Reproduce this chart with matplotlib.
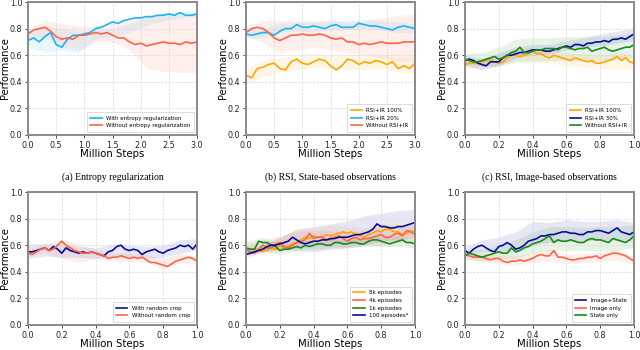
import numpy as np
import matplotlib
matplotlib.use('Agg')
import matplotlib.pyplot as plt

# ---- data ----
# top row (a), (b): 0..3 million steps, 31 points ; everything else 0..1, 41 points
steps3 = np.linspace(0, 3.0, 31)
steps1 = np.linspace(0, 1.0, 41)
band3 = np.linspace(0, 3.0, 11)
band1 = np.linspace(0, 1.0, 11)

# (a) entropy regularization
a_with = [0.71,0.73,0.70,0.74,0.77,0.68,0.66,0.72,0.75,0.75,0.76,0.77,0.80,0.81,0.83,0.85,
          0.84,0.86,0.87,0.88,0.88,0.89,0.89,0.90,0.90,0.91,0.90,0.92,0.90,0.90,0.91]
a_without = [0.76,0.79,0.80,0.81,0.78,0.74,0.72,0.73,0.72,0.75,0.75,0.76,0.77,0.76,0.77,0.75,
             0.73,0.73,0.70,0.68,0.69,0.67,0.68,0.69,0.70,0.69,0.69,0.68,0.70,0.69,0.70]
a_with_lo = [0.66,0.62,0.64,0.62,0.72,0.74,0.77,0.82,0.86,0.88,0.89]
a_with_hi = [0.76,0.82,0.80,0.78,0.79,0.80,0.84,0.88,0.92,0.93,0.93]
a_without_lo = [0.72,0.74,0.66,0.64,0.70,0.70,0.64,0.50,0.48,0.47,0.47]
a_without_hi = [0.80,0.86,0.84,0.82,0.82,0.84,0.86,0.90,0.90,0.90,0.91]

# (b) RSI, state-based
b_100 = [0.45,0.43,0.50,0.51,0.53,0.54,0.50,0.49,0.55,0.57,0.54,0.53,0.55,0.57,0.56,0.52,
         0.49,0.52,0.57,0.56,0.53,0.55,0.54,0.56,0.55,0.53,0.55,0.50,0.52,0.50,0.54]
b_20 = [0.76,0.75,0.76,0.77,0.77,0.75,0.78,0.80,0.80,0.83,0.81,0.81,0.82,0.81,0.80,0.82,
        0.83,0.81,0.81,0.81,0.84,0.83,0.82,0.82,0.81,0.80,0.79,0.81,0.82,0.81,0.80]
b_without = [0.77,0.80,0.81,0.80,0.77,0.73,0.71,0.73,0.75,0.75,0.76,0.75,0.75,0.76,0.75,0.73,
             0.72,0.73,0.70,0.70,0.68,0.69,0.68,0.69,0.70,0.69,0.69,0.69,0.70,0.70,0.70]
b_100_lo = [0.38,0.44,0.47,0.49,0.51,0.50,0.49,0.49,0.50,0.47,0.47]
b_100_hi = [0.50,0.56,0.58,0.60,0.61,0.60,0.61,0.60,0.60,0.58,0.58]
b_20_lo = [0.73,0.73,0.77,0.78,0.78,0.79,0.79,0.80,0.79,0.77,0.77]
b_20_hi = [0.79,0.80,0.84,0.85,0.85,0.86,0.86,0.87,0.86,0.85,0.84]
b_without_lo = [0.74,0.70,0.62,0.64,0.66,0.64,0.62,0.60,0.58,0.56,0.55]
b_without_hi = [0.82,0.86,0.86,0.86,0.86,0.86,0.85,0.86,0.88,0.90,0.91]

# (c) RSI, image-based
c_100 = [0.53,0.54,0.54,0.55,0.55,0.56,0.57,0.55,0.54,0.55,0.58,0.60,0.60,0.59,0.60,0.61,
         0.63,0.61,0.61,0.59,0.58,0.60,0.59,0.58,0.57,0.56,0.58,0.57,0.56,0.55,0.56,0.54,
         0.54,0.55,0.56,0.57,0.59,0.56,0.58,0.55,0.54]
c_30 = [0.56,0.57,0.56,0.54,0.53,0.52,0.55,0.55,0.55,0.58,0.60,0.60,0.61,0.62,0.62,0.63,
        0.64,0.64,0.64,0.63,0.63,0.64,0.65,0.66,0.67,0.66,0.68,0.68,0.67,0.69,0.69,0.70,
        0.70,0.71,0.70,0.72,0.72,0.73,0.72,0.74,0.76]
c_without = [0.57,0.56,0.55,0.55,0.56,0.57,0.58,0.59,0.57,0.58,0.60,0.62,0.63,0.66,0.62,0.62,
             0.63,0.64,0.64,0.65,0.65,0.65,0.64,0.66,0.66,0.65,0.64,0.65,0.65,0.66,0.63,0.64,
             0.65,0.66,0.64,0.63,0.64,0.65,0.66,0.66,0.68]
c_100_lo = [0.50,0.51,0.52,0.56,0.56,0.54,0.52,0.51,0.50,0.50,0.49]
c_100_hi = [0.56,0.58,0.60,0.65,0.66,0.64,0.62,0.61,0.60,0.62,0.60]
c_30_lo = [0.52,0.49,0.52,0.58,0.60,0.61,0.64,0.66,0.67,0.69,0.71]
c_30_hi = [0.60,0.57,0.62,0.66,0.68,0.68,0.71,0.73,0.76,0.78,0.80]
c_without_lo = [0.53,0.52,0.52,0.55,0.55,0.56,0.56,0.56,0.56,0.57,0.58]
c_without_hi = [0.61,0.62,0.66,0.72,0.73,0.73,0.74,0.74,0.74,0.75,0.77]

# (d) random crop
d_with = [0.55,0.55,0.56,0.57,0.58,0.56,0.59,0.57,0.54,0.58,0.56,0.55,0.54,0.55,0.54,0.55,
          0.54,0.53,0.52,0.55,0.56,0.59,0.60,0.57,0.56,0.57,0.56,0.53,0.55,0.56,0.57,0.55,
          0.54,0.56,0.57,0.58,0.60,0.59,0.60,0.57,0.61]
d_without = [0.54,0.53,0.55,0.57,0.58,0.56,0.57,0.60,0.63,0.60,0.58,0.56,0.55,0.54,0.54,0.55,
             0.54,0.53,0.52,0.50,0.51,0.51,0.52,0.51,0.50,0.51,0.50,0.51,0.49,0.47,0.47,0.46,
             0.45,0.44,0.46,0.48,0.49,0.50,0.51,0.50,0.48]
d_with_lo = [0.50,0.52,0.51,0.51,0.50,0.52,0.52,0.50,0.51,0.54,0.56]
d_with_hi = [0.61,0.61,0.61,0.59,0.58,0.61,0.60,0.59,0.60,0.64,0.65]
d_without_lo = [0.52,0.54,0.50,0.47,0.50,0.48,0.48,0.47,0.42,0.47,0.46]
d_without_hi = [0.57,0.61,0.64,0.61,0.57,0.54,0.54,0.53,0.50,0.54,0.51]

# (e) number of demo episodes
e_8k = [0.56,0.57,0.57,0.56,0.55,0.57,0.58,0.57,0.60,0.58,0.59,0.61,0.62,0.64,0.66,0.65,
        0.67,0.66,0.66,0.68,0.67,0.68,0.69,0.70,0.69,0.70,0.68,0.67,0.66,0.68,0.69,0.71,
        0.70,0.72,0.72,0.70,0.70,0.68,0.69,0.71,0.70]
e_4k = [0.57,0.55,0.54,0.57,0.60,0.58,0.58,0.61,0.62,0.59,0.58,0.60,0.62,0.63,0.64,0.69,
        0.65,0.66,0.66,0.64,0.64,0.66,0.67,0.65,0.63,0.65,0.66,0.64,0.65,0.65,0.66,0.67,
        0.68,0.66,0.66,0.68,0.69,0.67,0.71,0.70,0.68]
e_1k = [0.58,0.57,0.57,0.63,0.62,0.62,0.60,0.59,0.56,0.57,0.57,0.58,0.59,0.58,0.60,0.59,
        0.60,0.61,0.61,0.60,0.60,0.62,0.62,0.61,0.61,0.62,0.62,0.61,0.61,0.63,0.64,0.64,
        0.63,0.62,0.61,0.62,0.63,0.64,0.62,0.62,0.61]
e_100 = [0.53,0.54,0.55,0.56,0.57,0.59,0.60,0.60,0.61,0.62,0.63,0.66,0.64,0.62,0.61,0.62,
         0.63,0.63,0.64,0.64,0.65,0.65,0.66,0.66,0.66,0.67,0.68,0.68,0.69,0.70,0.72,0.76,
         0.74,0.74,0.73,0.73,0.74,0.74,0.75,0.76,0.77]
e_8k_lo = [0.53,0.53,0.55,0.60,0.61,0.63,0.62,0.62,0.64,0.64,0.65]
e_8k_hi = [0.60,0.62,0.66,0.72,0.73,0.75,0.74,0.73,0.76,0.76,0.75]
e_4k_lo = [0.53,0.55,0.56,0.58,0.59,0.59,0.59,0.60,0.60,0.62,0.63]
e_4k_hi = [0.61,0.64,0.67,0.70,0.71,0.71,0.70,0.71,0.74,0.75,0.74]
e_1k_lo = [0.53,0.56,0.53,0.56,0.57,0.58,0.58,0.59,0.59,0.59,0.58]
e_1k_hi = [0.63,0.66,0.61,0.63,0.64,0.64,0.65,0.66,0.67,0.67,0.65]
e_100_lo = [0.51,0.55,0.57,0.56,0.55,0.57,0.58,0.60,0.63,0.64,0.66]
e_100_hi = [0.56,0.60,0.66,0.72,0.74,0.76,0.78,0.82,0.84,0.86,0.87]

# (f) observation type
f_both = [0.56,0.54,0.57,0.59,0.60,0.58,0.56,0.55,0.59,0.60,0.62,0.60,0.57,0.58,0.60,0.63,
          0.64,0.65,0.67,0.67,0.68,0.68,0.69,0.70,0.70,0.69,0.69,0.68,0.68,0.70,0.70,0.71,
          0.71,0.70,0.69,0.71,0.73,0.70,0.69,0.68,0.70]
f_image = [0.53,0.52,0.51,0.51,0.51,0.50,0.49,0.50,0.50,0.48,0.47,0.48,0.48,0.49,0.48,0.49,
           0.50,0.52,0.53,0.52,0.52,0.56,0.51,0.51,0.50,0.49,0.49,0.50,0.50,0.51,0.51,0.52,
           0.50,0.52,0.53,0.54,0.54,0.53,0.52,0.50,0.48]
f_state = [0.52,0.54,0.53,0.52,0.51,0.52,0.53,0.54,0.55,0.54,0.54,0.58,0.55,0.56,0.58,0.59,
           0.61,0.62,0.63,0.65,0.67,0.62,0.64,0.63,0.63,0.64,0.63,0.62,0.62,0.64,0.65,0.64,
           0.64,0.63,0.62,0.65,0.64,0.63,0.62,0.64,0.67]
f_both_lo = [0.53,0.55,0.55,0.55,0.60,0.62,0.63,0.63,0.64,0.64,0.63]
f_both_hi = [0.59,0.64,0.66,0.70,0.78,0.77,0.79,0.78,0.78,0.79,0.77]
f_image_lo = [0.50,0.48,0.46,0.45,0.47,0.48,0.46,0.47,0.48,0.49,0.45]
f_image_hi = [0.55,0.54,0.53,0.52,0.54,0.57,0.53,0.54,0.55,0.57,0.51]
f_state_lo = [0.49,0.48,0.50,0.50,0.54,0.56,0.56,0.56,0.56,0.56,0.58]
f_state_hi = [0.56,0.57,0.60,0.64,0.70,0.74,0.74,0.73,0.74,0.74,0.75]

captions = ['(a) Entropy regularization',
            '(b) RSI, State-based observations',
            '(c) RSI, Image-based observations']

LBLUE = '#19b4f5'
RED = '#ff6347'
ORANGE = '#ffa500'
DBLUE = '#0b0b9a'
GREEN = '#1a8a1a'

panels = [
    (steps3, band3, 3.0, [
        (a_with, a_with_lo, a_with_hi, LBLUE, 'With entropy regularization'),
        (a_without, a_without_lo, a_without_hi, RED, 'Without entropy regularization')]),
    (steps3, band3, 3.0, [
        (b_100, b_100_lo, b_100_hi, ORANGE, 'RSI+IR 100%'),
        (b_20, b_20_lo, b_20_hi, LBLUE, 'RSI+IR 20%'),
        (b_without, b_without_lo, b_without_hi, RED, 'Without RSI+IR')]),
    (steps1, band1, 1.0, [
        (c_100, c_100_lo, c_100_hi, ORANGE, 'RSI+IR 100%'),
        (c_30, c_30_lo, c_30_hi, DBLUE, 'RSI+IR 30%'),
        (c_without, c_without_lo, c_without_hi, GREEN, 'Without RSI+IR')]),
    (steps1, band1, 1.0, [
        (d_with, d_with_lo, d_with_hi, DBLUE, 'With random crop'),
        (d_without, d_without_lo, d_without_hi, RED, 'Without random crop')]),
    (steps1, band1, 1.0, [
        (e_8k, e_8k_lo, e_8k_hi, ORANGE, '8k episodes'),
        (e_4k, e_4k_lo, e_4k_hi, RED, '4k episodes'),
        (e_1k, e_1k_lo, e_1k_hi, GREEN, '1k episodes'),
        (e_100, e_100_lo, e_100_hi, DBLUE, '100 episodes*')]),
    (steps1, band1, 1.0, [
        (f_both, f_both_lo, f_both_hi, DBLUE, 'Image+State'),
        (f_image, f_image_lo, f_image_hi, RED, 'Image only'),
        (f_state, f_state_lo, f_state_hi, GREEN, 'State only')]),
]

W, H = 640, 350
fig = plt.figure(figsize=(W / 100, H / 100), dpi=100)

lefts = [28, 246, 465]
tops = [2, 192]
aw, ah = 169, 133

for k, (xs, bx, xmax, series) in enumerate(panels):
    row, col = divmod(k, 3)
    ax = fig.add_axes([lefts[col] / W, 1 - (tops[row] + ah) / H, aw / W, ah / H])
    for ys, lo, hi, colr, lab in series:
        ax.fill_between(bx, lo, hi, color=colr, alpha=0.1, lw=0)
        ax.plot(xs, ys, color=colr, lw=1.2, label=lab)
    ax.set_xlim(0, xmax)
    ax.set_ylim(0, 1.0)
    ax.set_yticks([0.0, 0.2, 0.4, 0.6, 0.8, 1.0])
    if xmax == 3.0:
        ax.set_xticks(np.arange(0, 3.01, 0.5))
    else:
        ax.set_xticks(np.arange(0, 1.01, 0.2))
    ax.xaxis.set_major_formatter(matplotlib.ticker.FormatStrFormatter('%.1f'))
    ax.grid(True, ls='--', lw=0.5, color='#d8d8d8')
    ax.tick_params(labelsize=5.8, length=2.5, width=0.6, pad=1.5, colors='#222222')
    for s in ax.spines.values():
        s.set_color('#8a8a8a')
        s.set_linewidth(1.4)
    ax.set_xlabel('Million Steps', fontsize=7.3, va='center')
    ax.xaxis.set_label_coords(0.5, -0.145)
    ax.set_ylabel('Performance', fontsize=7.0, va='center')
    ax.yaxis.set_label_coords(-0.135, 0.5)
    leg = ax.legend(loc='lower right', fontsize=4.0, frameon=True, fancybox=False,
                    handlelength=2, borderpad=0.6, labelspacing=0.5, borderaxespad=0.6)
    leg.get_frame().set_edgecolor('#cccccc')
    leg.get_frame().set_linewidth(0.6)
    if row == 0:
        fig.text((lefts[col] + aw / 2) / W, 1 - 177 / H, captions[col],
                 ha='center', va='center', fontsize=7, family='Liberation Serif')

fig.savefig('out.png', dpi=100)
